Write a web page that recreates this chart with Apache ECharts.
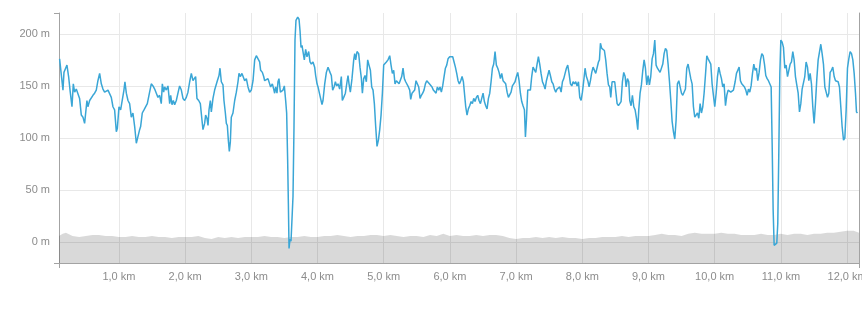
<!DOCTYPE html>
<html>
<head>
<meta charset="utf-8">
<script src="https://cdn.jsdelivr.net/npm/echarts@6/dist/echarts.min.js"></script>
<style>
html,body{margin:0;padding:0;background:#fff;}
#chart{width:862px;height:313px;}
</style>
</head>
<body>
<div id="chart"></div>
<script>
// Axis extents (km) and tick values
const distanceRange = [0.095, 12.18];
const elevationRange = [-20, 220];
const elevationLabelValues = [0, 50, 100, 150, 200];

// Elevation profile: [distance km, elevation m]
const elevationPoints = [
[0.104,176],[0.129,175],[0.155,146],[0.170,163],[0.195,167],[0.215,170],[0.240,159],[0.265,144],[0.291,130],[0.311,152],
[0.331,144],[0.356,147],[0.381,146],[0.406,138],[0.432,122],[0.457,120],[0.482,114],[0.497,114],[0.517,136],[0.532,130],
[0.558,136],[0.583,136],[0.608,141],[0.633,143],[0.658,146],[0.683,155],[0.709,162],[0.734,152],[0.759,147],[0.784,144],
[0.809,144],[0.835,146],[0.860,146],[0.885,139],[0.910,130],[0.935,127],[0.961,106],[0.976,109],[1.001,130],[1.026,127],
[1.051,128],[1.076,146],[1.091,154],[1.112,143],[1.137,136],[1.162,133],[1.187,120],[1.212,124],[1.238,111],[1.263,95],
[1.288,95],[1.313,108],[1.328,111],[1.353,124],[1.379,127],[1.404,127],[1.429,133],[1.454,141],[1.489,152],[1.515,150],
[1.540,147],[1.565,143],[1.590,139],[1.615,141],[1.640,133],[1.656,152],[1.676,144],[1.691,149],[1.716,146],[1.741,150],
[1.767,133],[1.782,141],[1.802,132],[1.822,136],[1.842,132],[1.867,136],[1.892,143],[1.917,150],[1.943,146],[1.968,138],
[1.993,136],[2.018,139],[2.043,144],[2.069,154],[2.094,162],[2.119,155],
[2.159,159],[2.179,138],[2.205,136],[2.230,133],[2.255,117],[2.270,108],[2.295,114],[2.310,122],[2.330,119],[2.346,112],
[2.361,127],[2.381,136],[2.396,125],[2.421,138],[2.446,146],[2.461,147],[2.487,155],[2.512,160],[2.527,167],[2.547,154],
[2.572,151],[2.587,136],[2.608,124],[2.623,114],[2.638,112],[2.653,98],[2.668,87],[2.683,96],[2.698,120],[2.723,124],
[2.749,136],[2.774,144],[2.799,154],[2.814,162],[2.834,159],[2.859,162],[2.885,163],[2.900,155],[2.925,157],[2.950,149],
[2.975,144],[3.000,146],[3.026,155],[3.051,175],[3.076,179],[3.101,179],[3.126,173],[3.141,165],[3.167,163],[3.187,159],
[3.202,155],[3.227,155],[3.252,157],[3.277,157],[3.292,149],[3.318,152],[3.338,147],[3.353,143],[3.368,149],[3.388,143],
[3.403,154],[3.418,157],[3.439,144],[3.464,144],[3.479,146],[3.499,150],[3.519,136],[3.534,124],[3.549,79],[3.560,37],
[3.570,-6],[3.585,3],[3.600,1],[3.615,2],[3.630,44],[3.645,111],[3.660,194],[3.675,213],[3.701,216],[3.721,214],
[3.736,203],[3.751,187],[3.766,189],[3.781,183],[3.801,175],[3.821,185],[3.841,178],[3.867,183],[3.887,173],[3.907,171],
[3.932,173],[3.957,168],[3.972,160],[3.993,152],[4.008,149],[4.023,150],[4.043,139],[4.068,132],[4.083,136],[4.109,152],
[4.134,163],[4.159,168],
[4.189,163],[4.209,160],[4.229,146],[4.250,149],[4.270,154],[4.290,150],[4.310,152],[4.335,147],[4.360,159],[4.375,136],
[4.396,139],[4.421,143],[4.446,154],[4.461,160],[4.476,152],[4.496,144],[4.521,157],[4.547,175],[4.562,181],[4.577,175],
[4.597,183],[4.622,181],[4.642,168],[4.663,157],[4.678,143],[4.698,157],[4.718,160],[4.738,154],[4.758,175],[4.778,170],
[4.799,165],[4.819,149],[4.839,146],[4.859,133],[4.879,111],[4.899,92],[4.920,98],[4.940,108],[4.960,122],[4.980,143],
[5.000,170],[5.020,170],[5.040,173],[5.065,175],[5.091,179],[5.111,170],[5.131,162],[5.151,165],[5.171,152],[5.191,155],
[5.212,155],[5.232,152],[5.252,151],[5.272,159],[5.292,167],[5.312,157],[5.332,154],[5.353,154],[5.373,149],[5.393,146],
[5.408,137],[5.428,143],[5.448,144],[5.468,146],[5.488,155],[5.509,155],[5.529,149],[5.549,138],[5.569,141],[5.589,143],
[5.609,146],[5.630,152],[5.650,155],[5.670,154],[5.690,152],[5.710,151],[5.730,149],[5.750,146],[5.771,147],[5.791,143],
[5.811,149],[5.831,146],[5.851,149],[5.871,144],[5.891,150],[5.912,159],[5.932,167],[5.952,170],[5.972,176],[5.997,178],
[6.023,178],[6.043,178],[6.063,173],[6.083,168],[6.103,162],[6.123,155],[6.143,152],[6.164,155],[6.184,159],[6.204,154],
[6.239,130],[6.259,122],[6.279,128],[6.299,131],[6.320,135],[6.340,133],[6.360,138],[6.380,135],[6.400,139],[6.420,141],
[6.440,136],[6.461,133],[6.481,138],[6.501,143],[6.521,135],[6.541,131],[6.561,128],[6.582,138],[6.602,143],[6.622,154],
[6.642,167],[6.662,171],[6.682,183],[6.702,170],[6.723,167],[6.743,163],[6.763,157],[6.783,162],[6.803,155],[6.823,154],
[6.843,152],[6.864,144],[6.884,139],[6.904,138],[6.924,144],[6.944,150],[6.964,152],[6.984,154],[7.005,159],[7.025,163],
[7.045,155],[7.065,143],[7.085,135],[7.105,131],[7.126,127],[7.141,101],[7.156,117],[7.176,146],[7.196,147],[7.216,146],
[7.236,159],[7.256,168],[7.277,167],[7.297,163],[7.317,171],[7.337,178],[7.357,171],[7.377,162],[7.398,154],[7.418,151],
[7.438,147],[7.458,155],[7.478,160],[7.498,165],[7.518,160],[7.539,154],[7.559,152],[7.579,147],[7.599,144],[7.619,147],
[7.639,146],[7.659,149],[7.680,144],[7.700,154],[7.720,157],[7.740,162],[7.760,167],[7.780,170],[7.800,162],[7.821,152],
[7.841,150],[7.861,154],[7.881,152],[7.901,154],[7.921,150],[7.942,154],[7.962,139],[7.982,136],[8.002,144],[8.022,155],
[8.042,167],[8.062,159],[8.083,155],[8.103,149],[8.123,155],[8.143,163],[8.163,168],[8.183,167],[8.203,162],[8.224,162],
[8.244,173],
[8.259,175],[8.274,191],[8.294,186],[8.314,187],[8.334,184],[8.354,175],[8.374,162],[8.395,151],[8.415,149],[8.430,139],
[8.450,154],[8.470,155],[8.490,154],[8.511,155],[8.526,133],[8.546,131],[8.566,131],[8.586,135],[8.606,154],[8.626,163],
[8.647,159],[8.662,149],[8.682,157],[8.702,154],[8.717,136],[8.737,131],[8.757,141],[8.778,130],[8.798,127],[8.818,119],
[8.838,108],[8.853,127],[8.873,143],[8.893,151],[8.914,165],[8.934,175],[8.954,167],[8.974,151],[8.994,160],[9.014,151],
[9.034,159],[9.055,176],[9.075,181],[9.095,194],[9.115,170],[9.135,167],[9.155,167],[9.175,163],[9.196,163],[9.216,171],
[9.236,181],[9.256,186],[9.276,184],[9.296,171],[9.316,155],[9.337,136],[9.357,116],[9.377,106],[9.397,99],[9.417,117],
[9.437,152],[9.458,155],[9.478,154],[9.498,143],[9.518,141],[9.538,141],[9.558,147],[9.578,167],[9.598,171],[9.619,171],
[9.639,157],[9.659,152],[9.679,130],[9.699,120],[9.719,119],[9.740,124],[9.760,119],[9.780,133],[9.800,124],[9.820,130],
[9.840,143],[9.860,160],[9.881,179],[9.901,176],[9.921,175],[9.941,171],[9.961,152],[9.981,141],[10.001,130],[10.022,143],
[10.042,159],[10.062,168],[10.082,162],[10.102,157],[10.122,149],[10.142,152],[10.163,131],[10.183,141],[10.203,146],[10.223,147],
[10.243,144],[10.263,144],[10.283,146],
[10.309,154],[10.329,162],[10.349,165],[10.369,168],[10.389,155],[10.409,152],[10.430,151],[10.450,149],[10.470,146],[10.490,141],
[10.510,147],[10.530,144],[10.550,150],[10.571,162],[10.591,171],[10.611,165],[10.631,167],[10.651,155],[10.671,163],[10.692,175],
[10.712,181],[10.732,179],[10.752,171],[10.772,160],[10.792,157],[10.812,155],[10.833,155],[10.853,149],[10.868,95],[10.883,31],
[10.898,-3],[10.918,-4],[10.938,-1],[10.953,18],[10.969,88],[10.984,162],[10.999,194],[11.019,192],[11.039,187],[11.059,167],
[11.079,170],[11.100,159],[11.120,160],[11.140,171],[11.160,173],[11.180,183],[11.200,175],[11.220,159],[11.240,151],[11.261,143],
[11.281,125],[11.301,133],[11.321,147],[11.341,146],[11.361,159],[11.381,173],[11.402,168],[11.422,155],[11.442,162],[11.462,152],
[11.482,130],[11.502,114],[11.522,133],[11.543,157],[11.563,175],[11.583,176],[11.603,190],[11.623,181],[11.643,171],[11.664,149],
[11.684,144],[11.704,139],[11.724,143],[11.744,163],[11.764,165],[11.784,168],[11.805,159],[11.825,155],[11.845,154],[11.865,154],
[11.885,149],[11.905,130],[11.925,111],[11.946,98],[11.966,100],[11.986,127],[12.006,167],[12.026,176],[12.046,183],[12.067,181],
[12.087,175],[12.107,162],[12.127,143],[12.142,125],[12.157,124]
];

// Grey background band: [distance km, value m]
const bandPoints = [
[0.095,6],[0.15,8],[0.2,9],[0.3,6],[0.4,5],[0.5,6],[0.6,7],[0.7,7],[0.8,6],[0.9,6],[1.0,5],
[1.1,5],[1.2,6],[1.3,5],[1.4,5],[1.5,6],[1.6,5],[1.7,5],[1.8,4],[1.9,5],[2.0,5],
[2.1,5],[2.2,6],[2.3,4],[2.4,3],[2.5,5],[2.6,4],[2.7,5],[2.8,4],[2.9,5],[3.0,5],
[3.1,5],[3.2,6],[3.3,5],[3.4,5],[3.5,4],[3.6,5],[3.7,5],[3.8,6],[3.9,5],[4.0,5],
[4.1,6],[4.2,6],[4.3,7],[4.4,6],[4.5,5],[4.6,6],[4.7,6],[4.8,7],[4.9,7],[5.0,6],
[5.1,7],[5.2,6],[5.3,5],[5.4,6],[5.5,6],[5.6,5],[5.7,7],[5.8,6],[5.9,8],[6.0,6],
[6.1,7],[6.2,6],[6.3,6],[6.4,7],[6.5,6],[6.6,7],[6.7,7],[6.8,6],[6.9,4],[7.0,3],
[7.1,4],[7.2,4],[7.3,5],[7.4,4],[7.5,5],[7.6,4],[7.7,5],[7.8,4],[7.9,4],[8.0,3],
[8.1,4],[8.2,4],[8.3,5],[8.4,5],[8.5,5],[8.6,6],[8.7,5],[8.8,6],[8.9,6],[9.0,6],
[9.1,7],[9.2,8],[9.3,7],[9.4,7],[9.5,6],[9.6,8],[9.7,9],[9.8,8],[9.9,8],[10.0,8],
[10.1,9],[10.2,8],[10.3,8],[10.4,7],[10.5,7],[10.6,7],[10.7,8],[10.8,7],[10.9,7],[11.0,8],
[11.1,7],[11.2,8],[11.3,8],[11.4,7],[11.5,8],[11.6,8],[11.7,9],[11.8,9],[11.9,10],[12.0,11],
[12.1,11],[12.18,9]
];

const FONT = 'Liberation Sans, Arial, sans-serif';
const AXIS_COLOR = '#a3a3a3';
const GRID_COLOR = '#e8e8e8';
const LABEL_COLOR = '#8c8c8c';
const T = 'rgba(0,0,0,0)';

const chart = echarts.init(document.getElementById('chart'), null, {renderer: 'canvas'});
chart.setOption({
  animation: false,
  backgroundColor: '#ffffff',
  grid: {left: 59, right: 3, top: 13, bottom: 50, containLabel: false, outerBoundsMode: 'none'},
  xAxis: [{
    type: 'value',
    min: distanceRange[0],
    max: distanceRange[1],
    minInterval: 1,
    maxInterval: 1,
    axisLine: {show: true, onZero: false, lineStyle: {color: AXIS_COLOR, width: 1}},
    axisTick: {show: false},
    axisLabel: {
      showMinLabel: false, showMaxLabel: false,
      color: LABEL_COLOR, fontSize: 11, fontFamily: FONT, margin: 8,
      formatter: v => v.toFixed(1).replace('.', ',') + ' km'
    },
    splitLine: {show: true, lineStyle: {color: GRID_COLOR, width: 1}}
  }, {
    type: 'value', min: 0, max: 1, interval: 1, position: 'bottom',
    axisLine: {show: false, onZero: false},
    axisTick: {show: true, length: 5, lineStyle: {color: AXIS_COLOR}},
    axisLabel: {show: false}, splitLine: {show: false}
  }],
  yAxis: [{
    type: 'value',
    min: elevationRange[0],
    max: elevationRange[1],
    interval: 10,
    position: 'left',
    axisLine: {show: true, onZero: false, lineStyle: {color: AXIS_COLOR, width: 1}},
    axisTick: {show: false},
    axisLabel: {
      color: LABEL_COLOR, fontSize: 11, fontFamily: FONT, margin: 9,
      formatter: v => elevationLabelValues.indexOf(v) >= 0 ? v + ' m' : ''
    },
    splitLine: {show: true, lineStyle: {color: [T, T, GRID_COLOR, T, T], width: 1}}
  }, {
    type: 'value', min: 0, max: 1, interval: 1, position: 'left',
    axisLine: {show: false, onZero: false},
    axisTick: {show: true, length: 5, lineStyle: {color: AXIS_COLOR}},
    axisLabel: {show: false}, splitLine: {show: false}
  }, {
    type: 'value', min: 0, max: 1, interval: 1, position: 'right',
    axisLine: {show: true, onZero: false, lineStyle: {color: AXIS_COLOR, width: 1}},
    axisTick: {show: false},
    axisLabel: {show: false}, splitLine: {show: false}
  }],
  series: [{
    type: 'line',
    xAxisIndex: 0, yAxisIndex: 0,
    data: bandPoints,
    symbol: 'none',
    smooth: false,
    lineStyle: {width: 0, color: 'rgba(0,0,0,0.15)'},
    areaStyle: {color: 'rgba(0,0,0,0.15)', opacity: 1, origin: 'start'},
    silent: true
  }, {
    type: 'line',
    xAxisIndex: 0, yAxisIndex: 0,
    data: elevationPoints,
    symbol: 'none',
    smooth: false,
    lineStyle: {width: 1.5, color: '#3aa6d6'},
    silent: true
  }]
});
</script>
</body>
</html>
